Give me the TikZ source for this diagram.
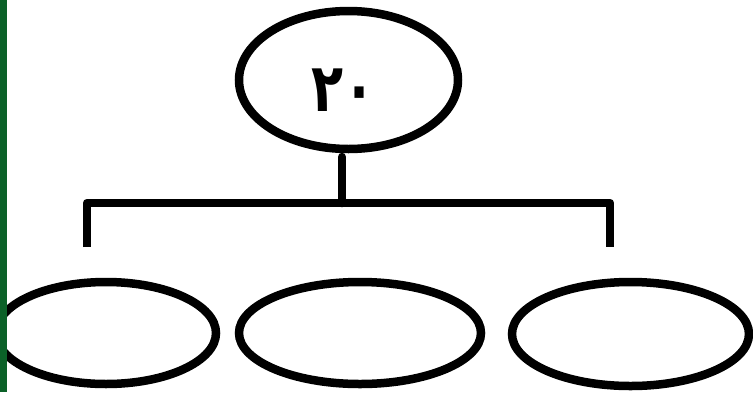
\documentclass[tikz,border=0pt]{standalone}
\usepackage{graphicx}
\usepackage{fontspec}
\newfontfamily\arabicfont[Script=Arabic]{DejaVu Sans}
\usetikzlibrary{shapes.geometric}
\definecolor{bargreen}{HTML}{0B6128}
\begin{document}
\begin{tikzpicture}[x=1pt,y=-1pt,
  oval/.style={draw=black,line width=8.5pt,fill=white},
  conn/.style={draw=black,line width=8.5pt,line join=round}]
\useasboundingbox (0,0) rectangle (753,392);
\fill[white] (0,0) rectangle (753,392);
\node[oval,ellipse,minimum width=219pt,minimum height=138pt,inner sep=0pt] (top) at (348.5,80) {};
\node[font=\arabicfont\bfseries\fontsize{64}{70}\selectfont,inner sep=0pt] (lbl) at (344,90) {\scalebox{0.82}[1.05]{٢٠}};
\node[oval,ellipse,minimum width=220pt,minimum height=102pt,inner sep=0pt] (left) at (106,333) {};
\node[oval,ellipse,minimum width=242pt,minimum height=102pt,inner sep=0pt] (mid) at (360,333) {};
\node[oval,ellipse,minimum width=237pt,minimum height=104pt,inner sep=0pt] (right) at (630.5,334) {};
\coordinate (j) at (342,203);
\coordinate (s) at (342,157);
\coordinate (lt) at (87,203);
\coordinate (lb) at (87,247);
\coordinate (rt) at (610,203);
\coordinate (rb) at (610,247);
\draw[conn,line cap=round] (s) -- (j);
\draw[conn] (lb) -- (lt) -- (rt) -- (rb);
\fill[bargreen] (0,0) rectangle (7,392);
\end{tikzpicture}
\end{document}
